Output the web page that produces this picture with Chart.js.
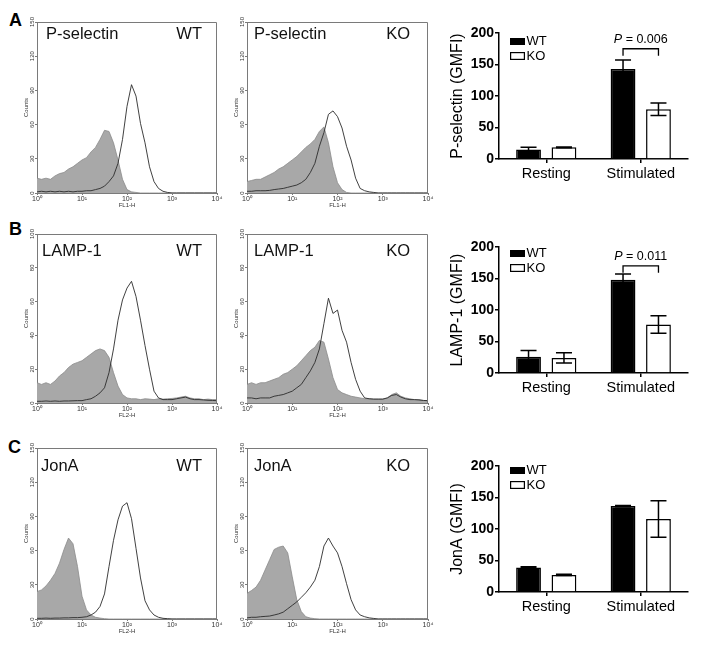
<!DOCTYPE html>
<html><head><meta charset="utf-8">
<script src="https://cdn.jsdelivr.net/npm/chart.js@4"></script>
<style>
body{margin:0;background:#fff;width:705px;height:650px;position:relative;overflow:hidden;font-family:"Liberation Sans",Arial,sans-serif}
canvas{position:absolute}
.lt{position:absolute;font-weight:bold;font-size:18px;line-height:18px;color:#000}
</style></head><body>
<div class="lt" style="left:9px;top:11px">A</div>
<div class="lt" style="left:9px;top:220px">B</div>
<div class="lt" style="left:8px;top:438px">C</div>
<canvas id="hAW" width="210" height="200" style="left:15px;top:12px"></canvas>
<canvas id="hAK" width="210" height="200" style="left:225px;top:12px"></canvas>
<canvas id="bA" width="257" height="168" style="left:448px;top:21px"></canvas>
<canvas id="hBW" width="210" height="198" style="left:15px;top:224px"></canvas>
<canvas id="hBK" width="210" height="198" style="left:225px;top:224px"></canvas>
<canvas id="bB" width="257" height="168" style="left:448px;top:235px"></canvas>
<canvas id="hCW" width="210" height="200" style="left:15px;top:438px"></canvas>
<canvas id="hCK" width="210" height="200" style="left:225px;top:438px"></canvas>
<canvas id="bC" width="257" height="168" style="left:448px;top:454px"></canvas>
<script>
// ---------- histogram data (x in decades of log10 fluorescence) ----------
const decades = [0,0.1,0.2,0.3,0.4,0.5,0.6,0.7,0.8,0.9,1,1.1,1.2,1.3,1.4,1.5,1.6,1.7,1.8,1.9,2,2.1,2.2,2.3,2.4,2.5,2.6,2.7,2.8,2.9,3,3.1,3.2,3.3,3.4,3.5,3.6,3.7,3.8,3.9,4];
const xTickValues = [0,1,2,3,4];
const xTickLabels = ['10\u2070','10\u00b9','10\u00b2','10\u00b3','10\u2074'];

const pselWtIso   = [13,12,13,12,15,17,18,21,23,26,29,31,36,40,47,55,54,44,29,12,3,1,0.5,0,0,0,0,0,0,0,0,0,0,0,0,0,0,0,0,0,0];
const pselWtStain = [1,1.5,1,1.5,1,1.5,1,1.5,1,1.5,1.5,2,2,3,4,6,10,15,26,47,76,95,85,61,44,23,10,4,1.5,0.5,0,0,0,0,0,0,0,0,0,0,0];
const pselKoIso   = [10,11,12,12,14,16,18,21,23,26,29,32,36,40,43,47,54,58,44,23,9,3,0.5,0,0,0,0,0,0,0,0,0,0,0,0,0,0,0,0,0,0];
const pselKoStain = [1.5,1.5,2,2,2,2.3,3,3.5,4,5,6,7,9,12,18,26,41,53,69,72,67,57,41,29,13,4,2,1,0.5,0,0,0,0,0,0,0,0,0,0,0,0];

const lampWtIso   = [12,11,12,11,13,16,18,21,23,24,25,27,29,31,32,31,27,18,10,5,3,2.5,2.5,2,2.5,2.3,2,2.5,2.3,2.5,2.7,3,3.5,4,3,2.5,2.5,2,2.3,2,2];
const lampWtStain = [1,1,1.2,1,1.2,1,1.2,1.2,1.3,1.4,1.4,2,2.5,4,6,9,18,32,49,61,68,72,63,49,34,20,7,3,2,2,2,2.5,3,3.5,2.5,2,2,1.8,1.6,1.5,1.4];
const lampKoIso   = [11,12,11,12,12,13,14,15,17,18,20,22,25,28,31,33,37,36,26,15,8,6,5,4,3.5,3,2.5,2.5,2.3,2.3,2.3,3,5,6,4,3,2.5,2,2,1.5,1.4];
const lampKoStain = [3,3,2.5,3,3,3,4,4.5,5,6,7,9,11,15,19,24,32,47,62,53,55,43,36,24,14,7,3,2.5,2.3,2.3,2.3,3,4.5,5,3.5,2.5,2,2,1.8,1.5,1.4];

const jonWtIso    = [24,25.5,29,34,40,49,61,71,66,46,20,8,3.5,1.5,0.8,0.3,0,0,0,0,0,0,0,0,0,0,0,0,0,0,0,0,0,0,0,0,0,0,0,0,0];
const jonWtStain  = [0.6,0.6,0.8,0.6,0.8,0.8,1,1,1.2,1.2,1.5,2,3.5,6,11,22,46,69,87,99,102,88,62,36,16,8,3.5,1.5,0.6,0.3,0,0,0,0,0,0,0,0,0,0,0];
const jonKoIso    = [22.5,25,28,34,43,52,61,63,64,58,37,17,6.5,2,0.8,0.3,0,0,0,0,0,0,0,0,0,0,0,0,0,0,0,0,0,0,0,0,0,0,0,0,0];
const jonKoStain  = [1,1.5,1.5,2,2.3,2.6,3.5,4.5,6,9,12,15,19,23,28,34,46,64,71,64,58,46,31,17,8,3.5,2,1,0.5,0,0,0,0,0,0,0,0,0,0,0,0];

const countTicks150 = [0,30,60,90,120,150];
const countTicks100 = [0,20,40,60,80,100];

// ---------- bar chart data ----------
const barCategories = ['Resting','Stimulated'];
const barTicks = [0,50,100,150,200];
const pselWtMean = [15,143],   pselWtErr = [3.5,14];
const pselKoMean = [18.5,79],  pselKoErr = [0.5,10];
const lampWtMean = [25.6,148], lampWtErr = [10,9];
const lampKoMean = [24,77],    lampKoErr = [8,14];
const jonWtMean  = [39,136.5], jonWtErr  = [1,1];
const jonKoMean  = [27,116],   jonKoErr  = [1,29];

const FONT = '"Liberation Sans", Arial, sans-serif';

const histDecor = {
  id:'histDecor',
  afterDraw(chart, args, o){
    const {ctx, chartArea:a, scales:{y}} = chart;
    ctx.save();
    ctx.strokeStyle='#7a7a7a'; ctx.lineWidth=1;
    ctx.beginPath();
    ctx.moveTo(a.left, a.top+0.5); ctx.lineTo(a.right-0.5, a.top+0.5); ctx.lineTo(a.right-0.5, a.bottom);
    ctx.stroke();
    ctx.fillStyle='#333'; ctx.font='6px '+FONT; ctx.textAlign='center'; ctx.textBaseline='middle';
    y.ticks.forEach(t=>{
      const py=y.getPixelForValue(t.value);
      ctx.save(); ctx.translate(a.left-5, py); ctx.rotate(-Math.PI/2); ctx.fillText(String(t.value),0,0); ctx.restore();
    });
    ctx.font='16.5px '+FONT; ctx.fillStyle='#111'; ctx.textBaseline='alphabetic';
    ctx.textAlign='left'; ctx.fillText(o.left, a.left+o.lx, a.top+o.by);
    ctx.textAlign='right'; ctx.fillText(o.right, a.right-o.rx, a.top+o.by);
    ctx.restore();
  }
};

function pts(arr){ return decades.map((x,i)=>({x:x, y:arr[i]})); }

function hist(id, iso, stain, ticks, xTitle, txt, padRight){
  new Chart(document.getElementById(id), {
    type:'line',
    data:{datasets:[
      {data:pts(stain), borderColor:'#2b2b2b', borderWidth:0.9, fill:false, pointRadius:0, tension:0, order:0},
      {data:pts(iso), borderColor:'#8a8a8a', borderWidth:0.8, backgroundColor:'#a8a8a8', fill:'origin', pointRadius:0, tension:0, order:1}
    ]},
    options:{
      responsive:false, animation:false, devicePixelRatio:1,
      layout:{padding:{top:10,right:padRight,left:0,bottom:0}},
      plugins:{legend:{display:false}, tooltip:{enabled:false}, histDecor:txt},
      scales:{
        x:{type:'linear', min:0, max:4,
          afterBuildTicks:s=>{s.ticks=xTickValues.map(v=>({value:v}));},
          ticks:{callback:v=>xTickLabels[xTickValues.indexOf(v)], font:{size:7,family:FONT}, color:'#333', padding:0, maxRotation:0, minRotation:0, autoSkip:false},
          grid:{drawOnChartArea:false, tickLength:2, color:'#7a7a7a'},
          border:{color:'#7a7a7a'},
          title:{display:true, text:xTitle, font:{size:6,family:FONT}, color:'#333', padding:{top:0,bottom:3}},
          afterFit:s=>{s.height=19; s.paddingLeft=0; s.paddingRight=0;}},
        y:{min:0, max:ticks[ticks.length-1],
          afterBuildTicks:s=>{s.ticks=ticks.map(v=>({value:v}));},
          ticks:{display:false},
          grid:{drawOnChartArea:false, tickLength:2, color:'#7a7a7a'},
          border:{color:'#7a7a7a'},
          title:{display:true, text:'Counts', font:{size:6,family:FONT}, color:'#333', padding:{top:8,bottom:0}},
          afterFit:s=>{s.width=22; s.paddingTop=0; s.paddingBottom=0;}}
      }
    },
    plugins:[histDecor]
  });
}

const barDecor = {
  id:'barDecor',
  afterDatasetsDraw(chart, args, o){
    const {ctx, chartArea:a, scales:{y}} = chart;
    ctx.save(); ctx.strokeStyle='#000'; ctx.lineWidth=1.5;
    chart.data.datasets.forEach((ds,i)=>{
      chart.getDatasetMeta(i).data.forEach((el,j)=>{
        const m=ds.data[j], e=ds.errors[j];
        const yt=y.getPixelForValue(m+e), yb=y.getPixelForValue(m-e);
        ctx.beginPath();
        ctx.moveTo(el.x,yb); ctx.lineTo(el.x,yt);
        ctx.moveTo(el.x-8,yt); ctx.lineTo(el.x+8,yt);
        ctx.moveTo(el.x-8,yb); ctx.lineTo(el.x+8,yb);
        ctx.stroke();
      });
    });
    // legend
    const lx=a.left+11, ly=a.top+o.legTop;
    ctx.fillStyle='#000'; ctx.fillRect(lx,ly,15,7);
    ctx.lineWidth=1.2; ctx.strokeRect(lx+0.6,ly+14.6,13.8,6.8);
    ctx.font='13px '+FONT; ctx.textAlign='left'; ctx.textBaseline='middle';
    ctx.fillText(chart.data.datasets[0].label, lx+16.5, ly+3.8);
    ctx.fillText(chart.data.datasets[1].label, lx+16.5, ly+18.3);
    // significance bracket
    if(o.pText){
      const e0=chart.getDatasetMeta(0).data[1], e1=chart.getDatasetMeta(1).data[1];
      const yt=y.getPixelForValue(o.pTop), yl=y.getPixelForValue(o.pLeg);
      ctx.lineWidth=1.3; ctx.beginPath();
      ctx.moveTo(e0.x,yl); ctx.lineTo(e0.x,yt); ctx.lineTo(e1.x,yt); ctx.lineTo(e1.x,yl); ctx.stroke();
      const cx=(e0.x+e1.x)/2, ty=yt-9;
      ctx.font='italic 12.5px '+FONT; const w1=ctx.measureText('P').width;
      ctx.font='12.5px '+FONT; const w2=ctx.measureText(o.pText).width;
      const sx=cx-(w1+w2)/2;
      ctx.font='italic 12.5px '+FONT; ctx.fillText('P', sx, ty);
      ctx.font='12.5px '+FONT; ctx.fillText(o.pText, sx+w1, ty);
    }
    ctx.restore();
  }
};

function bars(id, wtM, wtE, koM, koE, yTitle, extra){
  new Chart(document.getElementById(id), {
    type:'bar',
    data:{labels:barCategories, datasets:[
      {label:'WT', data:wtM, errors:wtE, backgroundColor:'#000', borderColor:'#000', borderWidth:1.5, barPercentage:0.7, categoryPercentage:0.75},
      {label:'KO', data:koM, errors:koE, backgroundColor:'#fff', borderColor:'#000', borderWidth:1.5, barPercentage:0.7, categoryPercentage:0.75}
    ]},
    options:{
      responsive:false, animation:false, devicePixelRatio:1,
      layout:{padding:{top:12,right:17,left:0,bottom:0}},
      plugins:{legend:{display:false}, tooltip:{enabled:false}, barDecor:extra},
      scales:{
        x:{grid:{drawOnChartArea:false, offset:false, tickLength:4, color:'#000', lineWidth:1.5},
          border:{color:'#000', width:1.5},
          ticks:{font:{size:14.5,family:FONT}, color:'#000', padding:2, maxRotation:0},
          afterFit:s=>{s.height=30; s.paddingLeft=0; s.paddingRight=0;}},
        y:{min:0, max:barTicks[barTicks.length-1],
          afterBuildTicks:s=>{s.ticks=barTicks.map(v=>({value:v}));},
          grid:{drawOnChartArea:false, tickLength:4, color:'#000', lineWidth:1.5},
          border:{color:'#000', width:1.5},
          ticks:{font:{size:14,weight:'bold',family:FONT}, color:'#000', padding:1},
          title:{display:true, text:yTitle, font:{size:16,family:FONT}, color:'#000', padding:{top:0,bottom:0}},
          afterFit:s=>{s.width=51; s.paddingTop=0; s.paddingBottom=0;}}
      }
    },
    plugins:[barDecor]
  });
}

hist('hAW', pselWtIso, pselWtStain, countTicks150, 'FL1-H', {left:'P-selectin', right:'WT', lx:9, rx:15, by:17}, 8);
hist('hAK', pselKoIso, pselKoStain, countTicks150, 'FL1-H', {left:'P-selectin', right:'KO', lx:7, rx:18, by:17}, 7);
hist('hBW', lampWtIso, lampWtStain, countTicks100, 'FL2-H', {left:'LAMP-1', right:'WT', lx:5, rx:15, by:21.5}, 8);
hist('hBK', lampKoIso, lampKoStain, countTicks100, 'FL2-H', {left:'LAMP-1', right:'KO', lx:7, rx:18, by:21.5}, 7);
hist('hCW', jonWtIso, jonWtStain, countTicks150, 'FL2-H', {left:'JonA', right:'WT', lx:4, rx:15, by:22.5}, 8);
hist('hCK', jonKoIso, jonKoStain, countTicks150, 'FL2-H', {left:'JonA', right:'KO', lx:7, rx:18, by:22.5}, 7);

bars('bA', pselWtMean, pselWtErr, pselKoMean, pselKoErr, 'P-selectin (GMFI)', {legTop:5, pText:' = 0.006', pTop:175, pLeg:164});
bars('bB', lampWtMean, lampWtErr, lampKoMean, lampKoErr, 'LAMP-1 (GMFI)', {legTop:3, pText:' = 0.011', pTop:170, pLeg:159});
bars('bC', jonWtMean, jonWtErr, jonKoMean, jonKoErr, 'JonA (GMFI)', {legTop:1});
</script>
</body></html>
